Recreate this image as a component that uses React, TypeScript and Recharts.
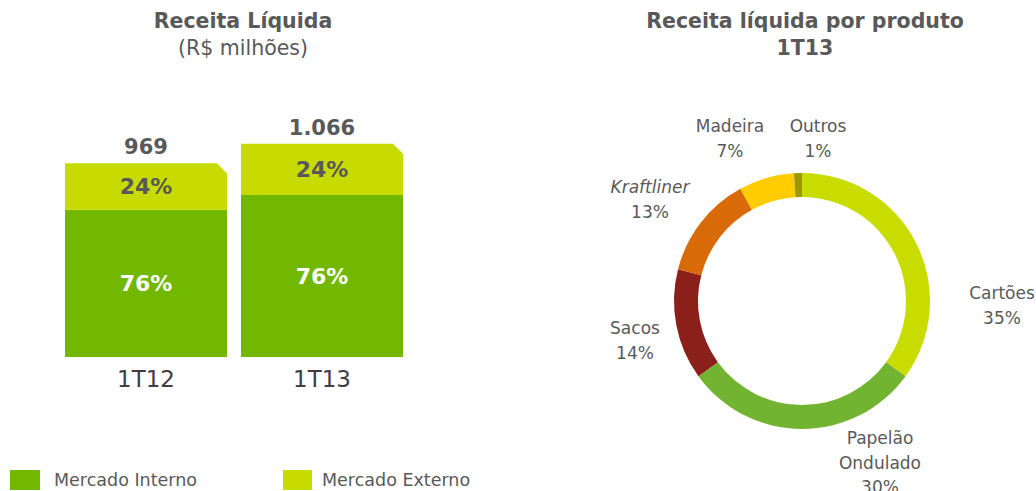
import { BarChart, Bar, XAxis, YAxis, LabelList, PieChart, Pie, Cell } from "recharts";

// Receita líquida (R$ milhões)
const PERIODS = ["1T12", "1T13"];
const TOTALS = [969, 1066];
const INTERNO = [736, 810];
const EXTERNO = [233, 256];
const SHARE_INTERNO = [76, 76];
const SHARE_EXTERNO = [24, 24];

// Receita líquida por produto 1T13 (%)
const PRODUCTS = ["Cartões", "Papelão Ondulado", "Sacos", "Kraftliner", "Madeira", "Outros"];
const PRODUCT_SHARE = [35, 30, 14, 13, 7, 1];

const GREEN = "#72b800";
const LIME = "#c8db00";
const PIE_COLORS = ["#c8dc00", "#72b432", "#8b1f1a", "#d86b07", "#ffcc00", "#999900"];
const TEXT = "#595959";
const FONT = "'DejaVu Sans', Verdana, sans-serif";

// label anchors around the donut, relative to its centre (Excel best-fit look)
const LABEL_POS: Record<string, { dx: number; dy: number; lines: string[]; italic?: boolean }> = {
  "Cartões": { dx: 200, dy: -8, lines: ["Cartões"] },
  "Papelão Ondulado": { dx: 78, dy: 137, lines: ["Papelão", "Ondulado"] },
  Sacos: { dx: -167, dy: 27, lines: ["Sacos"] },
  Kraftliner: { dx: -152, dy: -114, lines: ["Kraftliner"], italic: true },
  Madeira: { dx: -72, dy: -175, lines: ["Madeira"] },
  Outros: { dx: 16, dy: -175, lines: ["Outros"] },
};

const CX = 242;
const CY = 301;

const barData = PERIODS.map((p, i) => ({
  period: p,
  interno: INTERNO[i],
  externo: EXTERNO[i],
  total: TOTALS[i],
  pi: SHARE_INTERNO[i],
  pe: SHARE_EXTERNO[i],
}));

const pieData = PRODUCTS.map((name, i) => ({ name, value: PRODUCT_SHARE[i] }));

const fmt = (n: number) => String(n).replace(/\B(?=(\d{3})+(?!\d))/g, ".");

const ChamferBar = (props: any) => {
  const { x, y, width, height, fill } = props;
  const c = 10;
  return (
    <path
      d={`M${x},${y} L${x + width - c},${y} L${x + width},${y + c} L${x + width},${y + height} L${x},${y + height} Z`}
      fill={fill}
    />
  );
};

const InternoLabel = (props: any) => {
  const { x, y, width, height, index } = props;
  return (
    <text x={x + width / 2} y={y + height / 2} textAnchor="middle" dominantBaseline="central"
      fill="#fff" fontSize={22} fontWeight="bold" fontFamily={FONT}>
      {barData[index].pi}%
    </text>
  );
};

const ExternoLabel = (props: any) => {
  const { x, y, width, height, index } = props;
  return (
    <g>
      <text x={x + width / 2} y={y + height / 2} textAnchor="middle" dominantBaseline="central"
        fill={TEXT} fontSize={22} fontWeight="bold" fontFamily={FONT}>
        {barData[index].pe}%
      </text>
      <text x={x + width / 2} y={y - 16} textAnchor="middle" dominantBaseline="central"
        fill={TEXT} fontSize={21} fontWeight="bold" fontFamily={FONT}>
        {fmt(barData[index].total)}
      </text>
    </g>
  );
};

const PieLabel = (props: any) => {
  const { name, value } = props;
  const pos = LABEL_POS[name];
  if (!pos) return null;
  const x = CX + pos.dx;
  const lines = [...pos.lines, `${value}%`];
  return (
    <g>
      {lines.map((l, i) => (
        <text key={i} x={x} y={CY + pos.dy + i * 24.5} textAnchor="middle" dominantBaseline="central"
          fill={TEXT} fontSize={17} fontFamily={FONT}
          fontStyle={pos.italic && i === 0 ? "italic" : "normal"}>
          {l}
        </text>
      ))}
    </g>
  );
};

export default function App() {
  return (
    <div style={{ position: "absolute", left: 0, top: 0, width: 1036, height: 491, background: "#fff", fontFamily: FONT, overflow: "hidden" }}>
      {/* left title */}
      <div style={{ position: "absolute", left: 0, top: 8, width: 486, textAlign: "center", color: TEXT }}>
        <div style={{ fontSize: 20.5, fontWeight: "bold", lineHeight: "27px" }}>Receita Líquida</div>
        <div style={{ fontSize: 20.5, lineHeight: "27px" }}>(R$ milhões)</div>
      </div>

      <div style={{ position: "absolute", left: 0, top: 0 }}>
        <BarChart width={480} height={420} data={barData}
          margin={{ top: 117, left: 58, right: 70, bottom: 23 }}
          barCategoryGap={7}>
          <XAxis dataKey="period" axisLine={false} tickLine={false} height={40} tickMargin={8}
            tick={{ fill: "#404040", fontSize: 23, fontFamily: FONT }} />
          <YAxis hide domain={[0, 1200]} />
          <Bar dataKey="interno" stackId="a" fill={GREEN} isAnimationActive={false}>
            <LabelList dataKey="pi" content={<InternoLabel />} />
          </Bar>
          <Bar dataKey="externo" stackId="a" fill={LIME} shape={<ChamferBar />} isAnimationActive={false}>
            <LabelList dataKey="pe" content={<ExternoLabel />} />
          </Bar>
        </BarChart>
      </div>

      {/* legend */}
      <div style={{ position: "absolute", left: 10, top: 470, width: 30, height: 20, background: GREEN }} />
      <div style={{ position: "absolute", left: 54, top: 468, fontSize: 17.5, color: TEXT, lineHeight: "24px" }}>Mercado Interno</div>
      <div style={{ position: "absolute", left: 283, top: 470, width: 29, height: 20, background: LIME }} />
      <div style={{ position: "absolute", left: 322, top: 468, fontSize: 17.5, color: TEXT, lineHeight: "24px" }}>Mercado Externo</div>

      {/* right title */}
      <div style={{ position: "absolute", left: 560, top: 8, width: 490, textAlign: "center", color: TEXT }}>
        <div style={{ fontSize: 20.5, fontWeight: "bold", lineHeight: "27px" }}>Receita líquida por produto</div>
        <div style={{ fontSize: 20.5, fontWeight: "bold", lineHeight: "27px" }}>1T13</div>
      </div>

      <div style={{ position: "absolute", left: 560, top: 0 }}>
        <PieChart width={476} height={491} margin={{ top: 0, left: 0, right: 0, bottom: 0 }}>
          <Pie data={pieData} dataKey="value" nameKey="name" cx={CX} cy={CY}
            innerRadius={104} outerRadius={128} startAngle={90} endAngle={-270}
            stroke="none" label={PieLabel} labelLine={false} isAnimationActive={false}>
            {pieData.map((d, i) => (
              <Cell key={d.name} fill={PIE_COLORS[i]} />
            ))}
          </Pie>
        </PieChart>
      </div>
    </div>
  );
}
